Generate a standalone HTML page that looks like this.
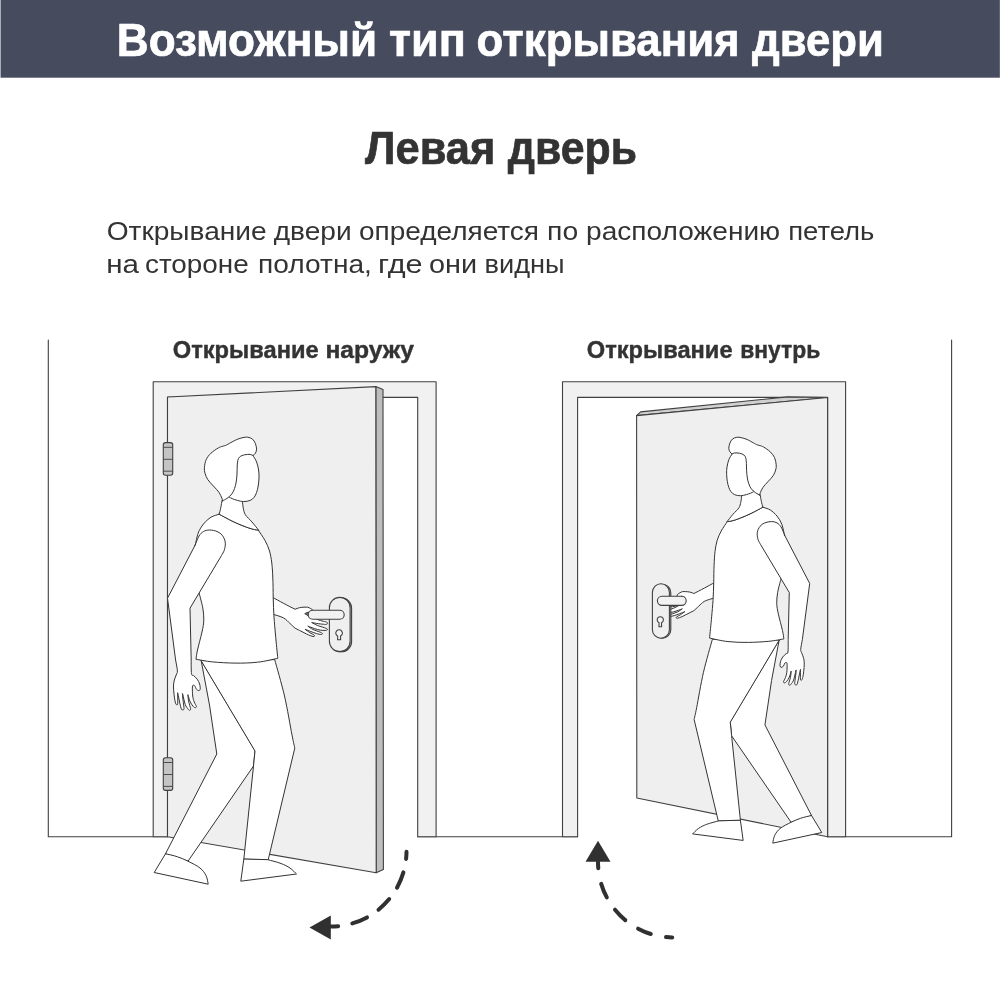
<!DOCTYPE html>
<html lang="ru">
<head>
<meta charset="utf-8">
<title>Возможный тип открывания двери</title>
<style>
html,body{margin:0;padding:0;background:#fff;}
body{width:1000px;height:1000px;overflow:hidden;font-family:"Liberation Sans",sans-serif;}
svg{display:block;will-change:transform;}
text{font-family:"Liberation Sans",sans-serif;}
</style>
</head>
<body>
<svg width="1000" height="1000" viewBox="0 0 1000 1000">
<rect x="0" y="0" width="1000" height="1000" fill="#ffffff"/>
<!-- header -->
<rect x="0.55" y="-1" width="999.3" height="78.7" fill="#464b5d"/>
<text y="56.2" font-size="46" font-weight="700" fill="#ffffff" stroke="#ffffff" stroke-width="0.7" stroke-linejoin="round"><tspan x="116.86" textLength="260.24" lengthAdjust="spacingAndGlyphs">Возможный</tspan> <tspan x="389.02" textLength="76.75" lengthAdjust="spacingAndGlyphs">тип</tspan> <tspan x="476.57" textLength="263.1" lengthAdjust="spacingAndGlyphs">открывания</tspan> <tspan x="752.0" textLength="131.9" lengthAdjust="spacingAndGlyphs">двери</tspan></text>
<text y="164" font-size="45.5" font-weight="700" fill="#333333" stroke="#333333" stroke-width="0.7" stroke-linejoin="round"><tspan x="365.04" textLength="130.36" lengthAdjust="spacingAndGlyphs">Левая</tspan> <tspan x="507.8" textLength="129.18" lengthAdjust="spacingAndGlyphs">дверь</tspan></text>
<text y="240" font-size="26.3" fill="#333333"><tspan x="106.66" textLength="159.99" lengthAdjust="spacingAndGlyphs">Открывание</tspan> <tspan x="273.73" textLength="77.97" lengthAdjust="spacingAndGlyphs">двери</tspan> <tspan x="358.94" textLength="180.04" lengthAdjust="spacingAndGlyphs">определяется</tspan> <tspan x="547.12" textLength="31.1" lengthAdjust="spacingAndGlyphs">по</tspan> <tspan x="586.13" textLength="194.0" lengthAdjust="spacingAndGlyphs">расположению</tspan> <tspan x="788.17" textLength="86.22" lengthAdjust="spacingAndGlyphs">петель</tspan></text>
<text y="272.8" font-size="26.3" fill="#333333"><tspan x="106.23" textLength="32.74" lengthAdjust="spacingAndGlyphs">на</tspan> <tspan x="144.98" textLength="103.77" lengthAdjust="spacingAndGlyphs">стороне</tspan> <tspan x="258.13" textLength="113.76" lengthAdjust="spacingAndGlyphs">полотна,</tspan> <tspan x="377.96" textLength="44.66" lengthAdjust="spacingAndGlyphs">где</tspan> <tspan x="428.9" textLength="48.12" lengthAdjust="spacingAndGlyphs">они</tspan> <tspan x="484.49" textLength="80.12" lengthAdjust="spacingAndGlyphs">видны</tspan></text>
<text y="358" font-size="23.5" font-weight="700" fill="#333333" stroke="#333333" stroke-width="0.4" stroke-linejoin="round"><tspan x="172.74" textLength="145.9" lengthAdjust="spacingAndGlyphs">Открывание</tspan> <tspan x="325.42" textLength="88.68" lengthAdjust="spacingAndGlyphs">наружу</tspan></text>
<text y="358" font-size="23.5" font-weight="700" fill="#333333" stroke="#333333" stroke-width="0.4" stroke-linejoin="round"><tspan x="586.75" textLength="145.8" lengthAdjust="spacingAndGlyphs">Открывание</tspan> <tspan x="740.14" textLength="80.25" lengthAdjust="spacingAndGlyphs">внутрь</tspan></text>

<g stroke="#404040" stroke-width="1.1" stroke-linejoin="round" stroke-linecap="round" fill="none">
<!-- walls / floor -->
<path d="M48.3 340V836.8H167.5"/>
<path d="M951.6 340V836.8H827.6"/>
<path d="M417.7 836.8H577.6"/>

<!-- LEFT DOOR -->
<!-- frame -->
<path d="M153.2 836.8V381.8H436.1V836.8H417.7V397.4H167.5V836.8Z" fill="#f1f1f1"/>
<!-- door edge -->
<path d="M375.8 386.6L383 389.4L383.4 869.6L376.2 872.7Z" fill="#bebebe"/>
<!-- door leaf -->
<path d="M167.5 397L375.8 386.6L376.2 872.7L167.5 836.8Z" fill="#efefef"/>
<!-- hinges -->
<g id="hinge">
<rect x="163.3" y="442.6" width="9.4" height="32.6" rx="2.2" fill="#c4c4c4"/>
<path d="M163.3 447.3H172.7M163.3 459.3H172.7M163.3 471.2H172.7" stroke-linecap="butt" stroke-width="0.9"/>
</g>
<use href="#hinge" y="315.2"/>
<!-- handle -->
<rect x="330.8" y="597.8" width="20.8" height="54" rx="10.4" fill="#bdbdbd"/>
<rect x="329.4" y="597.4" width="20.7" height="54.2" rx="10.35" fill="#efefef"/>
<path d="M337.7 636.1A3.3 3.3 0 1 1 340.5 636.1L340.6 639.8H337.6Z" fill="#f4f4f4"/>
<g stroke-width="1" stroke="#333"><g id="fig">
<path d="M273.1 597.6C274.9 598.6 279.9 601.4 283.5 603.3C287.1 605.2 293.1 608.3 295 609.2L295 609.3C295.8 609 298 608 299.5 607.7C301 607.3 302.7 607.3 304 607.2C305.4 607.2 306.6 607 307.6 607.2C308.7 607.4 309.4 607.9 310.3 608.4C311.2 608.8 312.6 609.9 313 610.2L316.6 619.2C317.5 619.5 320.4 620.5 322 621C323.7 621.4 325.6 621.7 326.5 622.1C327.4 622.5 327.6 622.8 327.6 623.2C327.6 623.6 327.4 624.2 326.5 624.3C325.6 624.5 323.9 624.3 322 624.1C320.1 623.9 317 623.5 315.3 623.2C313.5 622.9 312.3 622.6 311.7 622.5L311.7 622.5C312.6 623 315.4 624.6 317.5 625.5C319.6 626.3 322.6 627.1 324.3 627.7C325.9 628.3 327 628.6 327.4 629.1C327.8 629.5 327.3 630 326.5 630.2C325.8 630.4 324.4 630.5 322.9 630.4C321.4 630.3 319.3 630 317.5 629.5C315.7 629.1 313.7 628.3 312.1 627.7C310.5 627.1 308.5 626.4 307.8 626.1L307.8 626.1C308.7 626.7 310.9 628.5 313 629.5C315.1 630.5 318.6 631.5 320.2 632.2C321.8 632.9 322.3 633.2 322.5 633.6C322.6 633.9 322.1 634.5 321.1 634.5C320.1 634.5 318.3 634 316.6 633.6C314.9 633.1 312.7 632.2 310.8 631.5C308.8 630.8 306.1 629.7 305.1 629.3L305.1 629.3C305.9 629.8 308.4 631.7 309.9 632.7C311.3 633.6 313.1 634.3 313.9 634.9C314.7 635.5 314.7 635.8 314.6 636C314.4 636.3 314 636.7 313 636.5C312 636.3 310 635.5 308.5 634.9C307 634.3 305.5 633.4 304 632.7C302.5 631.9 301 631.2 299.5 630.4C298 629.7 295.8 628.5 295 628.2L295 628.1C294.1 627.3 291.7 625 289.8 623.3C287.9 621.6 286.3 619.4 283.5 617.9C280.7 616.4 274.9 614.9 273.1 614.3Z" fill="#fff" />
<path d="M305.1 613.5L308.5 612L308.3 615.3Z" fill="#777" />
<path d="M201.2 660.8L209.5 705L216.8 754L165.5 853.8L188 861.2L253.5 766L255 751Z" fill="#fff" />
<path d="M165.5 853.8L154.2 872.5L208.2 884.2L208.2 884.2C207.9 882.8 207.4 878.2 206 875.5C204.6 872.8 203 870.4 200 868C197 865.6 191.8 863.1 188 861.2C184.2 859.4 181.2 858 177.5 856.8C173.8 855.5 167.5 854.2 165.5 853.8Z" fill="#fff" />
<path d="M201.2 660.8L255 751L253.5 766L243.8 859.3L268.2 859.8L294.8 748L294.8 748C294.3 745.8 293.7 743.7 292 735C290.3 726.3 287.4 708.5 284.5 696C281.6 683.5 276.4 666 274.8 660Z" fill="#fff" />
<path d="M243.8 859.3L240.8 881.2L296.5 874L296.5 874C295.4 873 292.6 869.8 290 868C287.4 866.2 284.6 864.9 281 863.5C277.4 862.1 270.4 860.4 268.2 859.8Z" fill="#fff" />
<path d="M219.2 514.2C217.9 514.8 213.6 515.6 211 517.2C208.4 518.9 205.6 521.4 203.5 524C201.4 526.6 199.6 529.5 198.2 533C196.9 536.5 195.8 543 195.2 545L199.3 593.8C199.9 596.1 202 603.6 202.8 608C203.5 612.4 203.9 616 203.8 620C203.7 624 203.1 627 202 632C200.9 637 198.5 645.5 197.5 650C196.5 654.5 196.2 657.8 196 659.3L196 659.3C198.8 659.7 206 661.3 212.5 661.9C219 662.5 227.5 663 235 663.1C242.5 663.2 250.4 663 257.5 662.2C264.6 661.5 274.4 659 277.8 658.3L277.8 658.3C277.4 654.4 276.1 641.9 275.5 635C274.9 628.1 274.4 623.2 274 617C273.6 610.8 273.4 604 273.2 597.5C273.1 591 273.1 583.8 272.8 578C272.6 572.2 272.3 567.5 271.8 563C271.2 558.5 270.6 554.8 269.5 551C268.4 547.2 266.9 544 265 540.5C263.1 537 259.4 531.8 258.2 530L258.2 530C257.4 529.9 255.4 529.9 253 529.2C250.6 528.6 247.5 527.6 244 526.2C240.5 524.9 236.1 523 232 521C227.9 519 221.4 515.4 219.2 514.2Z" fill="#fff" />
<path d="M222 500.6C221.8 501.8 221.3 505.3 220.8 507.6C220.3 509.9 219.5 513.1 219.2 514.2L219.2 514.2C221.4 515.4 227.9 519 232 521C236.1 523 240.5 524.9 244 526.2C247.5 527.6 250.6 528.6 253 529.2C255.4 529.9 257.4 529.9 258.2 530L258.6 530.2C257.5 528.8 254.2 524.6 252 522C249.8 519.4 246.8 517 245.4 514.8C244 512.6 243.9 511 243.4 508.8C242.9 506.6 242.6 502.8 242.4 501.6L242.4 492L228 492Z" fill="#fff" stroke="none"/>
<path d="M222 500.6C221.8 501.8 221.3 505.3 220.8 507.6C220.3 509.9 219.5 513.1 219.2 514.2M258.6 530.2C257.5 528.8 254.2 524.6 252 522C249.8 519.4 246.8 517 245.4 514.8C244 512.6 243.9 511 243.4 508.8C242.9 506.6 242.6 502.8 242.4 501.6M258.2 530C257.4 529.9 255.4 529.9 253 529.2C250.6 528.6 247.5 527.6 244 526.2C240.5 524.9 236.1 523 232 521C227.9 519 221.4 515.4 219.2 514.2" fill="none"/>
<path d="M253 455.6C253.6 456.7 255.7 459.6 256.6 462C257.5 464.4 258.2 467.3 258.6 470C259 472.7 259.1 475.3 259 478C258.9 480.7 258.6 483.6 258.2 486C257.8 488.4 257.3 490.5 256.6 492.4C255.9 494.3 255.3 495.9 254.2 497.2C253.1 498.5 251.9 499.7 250.2 500.4C248.5 501.1 245.9 501.6 243.8 501.6C241.7 501.6 239.3 500.9 237.4 500.4C235.5 499.9 233.9 499.3 232.6 498.8C231.3 498.3 229.9 497.5 229.4 497.2L228.6 492.4L232.6 470L239.8 454Z" fill="#fff" stroke="none"/>
<path d="M253 455.6C253.6 456.7 255.7 459.6 256.6 462C257.5 464.4 258.2 467.3 258.6 470C259 472.7 259.1 475.3 259 478C258.9 480.7 258.6 483.6 258.2 486C257.8 488.4 257.3 490.5 256.6 492.4C255.9 494.3 255.3 495.9 254.2 497.2C253.1 498.5 251.9 499.7 250.2 500.4C248.5 501.1 245.9 501.6 243.8 501.6C241.7 501.6 239.3 500.9 237.4 500.4C235.5 499.9 233.9 499.3 232.6 498.8C231.3 498.3 229.9 497.5 229.4 497.2" fill="none"/>
<path d="M222.6 500.8C222.5 500.3 222.4 499.4 221.8 498C221.2 496.6 220.4 494.4 219 492.4C217.6 490.4 215.3 488.1 213.4 486C211.5 483.9 209.2 481.7 207.8 479.6C206.4 477.5 205.6 475.2 205 473.2C204.4 471.2 204.2 469.9 204.4 467.6C204.6 465.3 205.1 462 206.2 459.6C207.3 457.2 209 455.1 211 453.2C213 451.3 216.3 449.1 218.2 448C220.1 446.9 220.9 446.8 222.2 446.4C223.5 446 225.2 445.6 225.8 445.4L225.8 445.4C226.4 445.1 227.6 444.4 229.4 443.4C231.2 442.5 234.3 440.6 236.6 439.6C238.9 438.6 241.1 438 243 437.6C244.9 437.2 246.2 436.9 247.8 437.2C249.4 437.5 251.3 438.1 252.6 439.2C253.9 440.3 254.7 441.9 255.4 443.6C256.1 445.3 256.6 447.6 256.6 449.2C256.6 450.8 256 452.1 255.4 453.2C254.8 454.3 253.4 455.2 253 455.6L253 455.6C252.5 455.4 251.6 454.5 250.2 454.4C248.8 454.3 246.3 454.4 244.6 454.8C242.9 455.2 240.9 455.9 239.8 456.8C238.7 457.7 238.2 458.9 237.8 460.4C237.4 461.9 237.4 463.7 237.2 466C237.1 468.3 237.2 471.3 237 474C236.8 476.7 236.6 479.6 236.2 482C235.8 484.4 235.3 486.4 234.6 488.4C233.9 490.4 233.1 492.3 231.8 494C230.5 495.7 228.5 497.3 227 498.4C225.5 499.5 223.3 500.4 222.6 500.8Z" fill="#fff" />
<path d="M195.2 545C195.9 543.5 197.6 538.2 199 536C200.4 533.8 201.8 532.5 203.5 531.5C205.2 530.5 207.2 530 209.5 530C211.8 530 214.9 530.6 217 531.5C219.1 532.4 220.9 533.5 222.2 535.2C223.6 537 224.9 539.6 225.2 542C225.6 544.4 225.1 547.2 224.5 549.5C223.9 551.8 222 554.5 221.5 555.5L221.5 555.5L190 608.2L191.2 660L191.2 660C191.2 662.3 191.1 671.2 191.5 673.8C191.9 676.4 192.6 674.7 193.6 675.6C194.5 676.5 196.2 677.8 197.2 679.2C198.2 680.6 199.1 682.4 199.6 684C200.1 685.6 200.3 687.7 200.2 688.8C200.1 689.9 199.6 690.5 199 690.6C198.4 690.7 197.3 690.2 196.6 689.4C195.9 688.6 195.3 686.5 194.8 685.8C194.2 685.1 193.7 685 193.3 685.2C192.9 685.4 192.5 685.2 192.4 687C192.3 688.8 192.4 693.5 192.7 696C193 698.5 193.6 700.3 194.2 702C194.8 703.7 196.1 705.2 196.3 706.2C196.5 707.1 195.9 707.7 195.4 707.7C194.8 707.7 193.9 707.2 193 706.2C192.1 705.1 190.8 703.2 190 701.4C189.2 699.6 188.5 696.4 188.2 695.4C187.8 694.4 187.8 694.3 187.9 695.4C188 696.5 188.3 699.8 188.8 702C189.2 704.2 190.4 707.2 190.6 708.6C190.7 710 190.1 710.2 189.7 710.3C189.3 710.4 188.9 710.2 188.2 709.2C187.4 708.2 186.1 706.8 185.2 704.4C184.3 701.9 183.2 696.1 182.8 694.5C182.3 692.8 182.4 693.4 182.5 694.5C182.5 695.5 182.8 698.4 183.1 700.8C183.3 703.1 184.1 707.1 184 708.6C183.9 710.1 183 709.9 182.5 709.8C182 709.7 181.7 710.6 181 708C180.2 705.4 178.5 696.5 178 694.2C177.4 691.9 177.7 692.6 177.7 694.2C177.6 695.8 177.9 702.1 177.7 703.8C177.4 705.5 176.6 704.9 176.2 704.4C175.7 703.9 175.3 702.4 175 700.8C174.6 699.2 174.3 697.1 174.1 694.8C173.8 692.5 173.5 689.3 173.5 687C173.5 684.7 173.6 683 174.1 681C174.5 679 175.6 676.7 176.2 675C176.7 673.3 177.5 673.3 177.4 670.8C177.3 668.3 175.9 661.8 175.6 660L175.6 660L167.5 598.2L195.2 545Z" fill="#fff" />
</g></g>
<rect x="308.2" y="610.2" width="36" height="9" rx="4.5" fill="#f2f2f2"/>

<!-- RIGHT DOOR -->
<path d="M562.5 836.8V381.8H845.6V836.8H827.6V397.4H577.6V836.8Z" fill="#f1f1f1"/>
<!-- door top band -->
<path d="M636.6 415.6L640.6 411.9L787.5 396.9L827.6 397.5Z" fill="#d0d0d0"/>
<path d="M636.6 415.6L827.6 397.5V836.8L636.8 798Z" fill="#efefef"/>
<!-- handle -->
<g stroke-width="1.1" stroke="#333"><use href="#fig" transform="translate(961.8 40.3) scale(-0.908 0.908)"/></g>
<rect x="653.8" y="584.2" width="17" height="54" rx="8.5" fill="#bdbdbd"/>
<rect x="652.4" y="583.8" width="17" height="54.4" rx="8.5" fill="#efefef"/>
<path d="M659.1 622.7A3.1 3.1 0 1 1 661.5 622.7L661.6 626.8H659Z" fill="#f4f4f4"/>
<rect x="657.4" y="596.2" width="28.8" height="9.2" rx="4.6" fill="#f2f2f2"/>
</g>

<!-- arrows -->
<g fill="none" stroke="#303030" stroke-width="4" stroke-linecap="round">
<path d="M406.5 851.7A75.5 75.5 0 0 1 406.1 858.9M403.4 872.4A75.5 75.5 0 0 1 397 887.7M389.2 899.1A75.5 75.5 0 0 1 378.5 909.7M367 917.4A75.5 75.5 0 0 1 352.3 923.4M338.2 926.2A75.5 75.5 0 0 1 331 926.5"/>
<path d="M598 862A75.5 75.5 0 0 0 598.3 868.3M601.2 883.8A75.5 75.5 0 0 0 606.8 897.4M615 909.7A75.5 75.5 0 0 0 625.3 920.1M638.1 928.7A75.5 75.5 0 0 0 650.8 934M666 937.1A75.5 75.5 0 0 0 672.2 937.5"/>
</g>
<path d="M309.5 927.5L330.8 915.5V939.5Z" fill="#303030"/>
<path d="M598 840.8L610.5 861.8H585.5Z" fill="#303030"/>
</svg>
</body>
</html>
